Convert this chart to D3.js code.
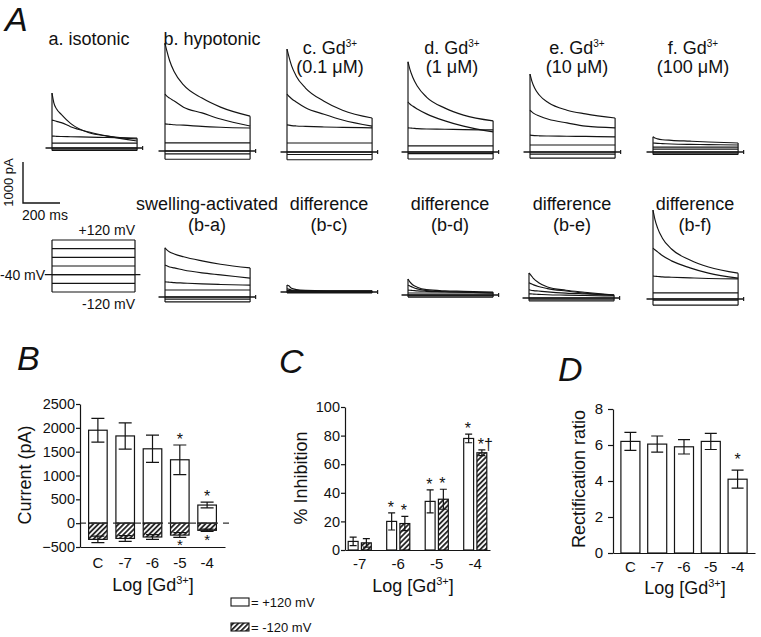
<!DOCTYPE html>
<html>
<head>
<meta charset="utf-8">
<script src="https://cdn.jsdelivr.net/npm/d3@7"></script>
<style>
  body { margin: 0; background: #fff; }
  svg text { font-family: "Liberation Sans", Arial, Helvetica, sans-serif; fill: #111; }
</style>
</head>
<body>
<svg id="fig" width="761" height="637"></svg>
<script>
// ---- data: current traces (pA) sampled at traceTimes, one row per voltage step ----
const traceTimes = [0, 10, 25, 50, 100, 200, 300, 460];      // ms
const stepVoltages = [120, 80, 40, 0, -40, -80, -120];        // mV
const holdingVoltage = -40;

const isotonic = [
  [1340, 1100, 950, 820, 600, 370, 290, 220],
  [680, 670, 650, 620, 520, 390, 290, 170],
  [290, 290, 285, 280, 275, 265, 255, 240],
  [120, 120, 120, 120, 120, 120, 120, 120],
  [0, 0, 0, 0, 0, 0, 0, 0],
  [-30, -30, -30, -30, -30, -30, -30, -30],
  [-60, -60, -60, -60, -60, -60, -60, -60]
];
const hypotonic = [
  [2630, 2440, 2200, 1930, 1610, 1290, 1070, 850],
  [1390, 1340, 1290, 1220, 1070, 930, 780, 610],
  [660, 655, 650, 640, 630, 600, 580, 560],
  [200, 200, 200, 200, 200, 200, 200, 200],
  [0, 0, 0, 0, 0, 0, 0, 0],
  [-70, -70, -70, -70, -70, -70, -70, -70],
  [-200, -200, -200, -200, -200, -200, -200, -200]
];
const gd01 = [
  [2510, 2330, 2100, 1850, 1560, 1240, 1020, 830],
  [1410, 1360, 1300, 1220, 1080, 920, 780, 630],
  [660, 655, 645, 635, 625, 610, 600, 590],
  [220, 220, 220, 220, 220, 220, 220, 220],
  [0, 0, 0, 0, 0, 0, 0, 0],
  [-60, -60, -60, -60, -60, -60, -60, -60],
  [-190, -190, -190, -190, -190, -190, -190, -190]
];
const gd1 = [
  [2200, 2020, 1830, 1610, 1340, 1070, 900, 760],
  [1220, 1170, 1120, 1050, 930, 760, 630, 490],
  [590, 585, 580, 570, 560, 555, 545, 540],
  [150, 150, 150, 150, 150, 150, 150, 150],
  [0, 0, 0, 0, 0, 0, 0, 0],
  [-40, -40, -40, -40, -40, -40, -40, -40],
  [-170, -170, -170, -170, -170, -170, -170, -170]
];
const gd10 = [
  [1900, 1730, 1560, 1390, 1200, 1020, 930, 830],
  [1020, 980, 930, 880, 800, 710, 630, 590],
  [410, 405, 400, 395, 390, 385, 380, 370],
  [170, 170, 170, 170, 170, 170, 170, 170],
  [0, 0, 0, 0, 0, 0, 0, 0],
  [-50, -50, -50, -50, -50, -50, -50, -50],
  [-150, -150, -150, -150, -150, -150, -150, -150]
];
const gd100 = [
  [370, 340, 320, 300, 285, 265, 245, 220],
  [220, 215, 210, 205, 195, 185, 180, 170],
  [120, 120, 120, 120, 120, 120, 120, 120],
  [70, 70, 70, 70, 70, 70, 70, 70],
  [0, 0, 0, 0, 0, 0, 0, 0],
  [-30, -30, -30, -30, -30, -30, -30, -30],
  [-60, -60, -60, -60, -60, -60, -60, -60]
];
const diffBA = [
  [1200, 1150, 1100, 1050, 980, 880, 800, 710],
  [780, 760, 730, 710, 660, 590, 540, 460],
  [370, 365, 360, 350, 340, 320, 305, 290],
  [170, 170, 170, 170, 170, 170, 170, 170],
  [0, 0, 0, 0, 0, 0, 0, 0],
  [-50, -50, -50, -50, -50, -50, -50, -50],
  [-120, -120, -120, -120, -120, -120, -120, -120]
];
const diffBC = [
  [170, 150, 90, 60, 40, 30, 30, 30],
  [80, 70, 50, 40, 30, 20, 20, 20],
  [40, 40, 35, 30, 20, 15, 10, 10],
  [20, 20, 20, 20, 20, 20, 20, 20],
  [0, 0, 0, 0, 0, 0, 0, 0],
  [-10, -10, -10, -10, -10, -10, -10, -10],
  [-20, -20, -20, -20, -20, -20, -20, -20]
];
const diffBD = [
  [390, 320, 250, 190, 130, 100, 90, 70],
  [240, 220, 190, 150, 110, 80, 70, 50],
  [120, 115, 110, 100, 90, 80, 70, 50],
  [50, 50, 50, 50, 50, 50, 50, 50],
  [0, 0, 0, 0, 0, 0, 0, 0],
  [-20, -20, -20, -20, -20, -20, -20, -20],
  [-50, -50, -50, -50, -50, -50, -50, -50]
];
const diffBE = [
  [610, 560, 470, 380, 270, 190, 140, 70],
  [370, 350, 320, 280, 230, 170, 120, 70],
  [200, 190, 180, 170, 150, 120, 100, 70],
  [100, 100, 95, 90, 80, 70, 60, 50],
  [0, 0, 0, 0, 0, 0, 0, 0],
  [-30, -30, -30, -30, -30, -30, -30, -30],
  [-70, -70, -70, -70, -70, -70, -70, -70]
];
const diffBF = [
  [2170, 1950, 1730, 1490, 1220, 950, 780, 630],
  [1240, 1200, 1150, 1060, 930, 760, 630, 510],
  [560, 555, 550, 540, 530, 515, 500, 490],
  [150, 150, 150, 150, 150, 150, 150, 150],
  [0, 0, 0, 0, 0, 0, 0, 0],
  [-30, -30, -30, -30, -30, -30, -30, -30],
  [-150, -150, -150, -150, -150, -150, -150, -150]
];

const topTitles = [["a. isotonic"], ["b. hypotonic"], ["c. Gd", "(0.1 μM)"],
                   ["d. Gd", "(1 μM)"], ["e. Gd", "(10 μM)"], ["f. Gd", "(100 μM)"]];
const bottomTitles = [["swelling-activated", "(b-a)"], ["difference", "(b-c)"], ["difference", "(b-d)"],
                      ["difference", "(b-e)"], ["difference", "(b-f)"]];

// ---- data: panel B (current, pA) ----
const bCategories = ["C", "-7", "-6", "-5", "-4"];
const bTicks = [-500, 0, 500, 1000, 1500, 2000, 2500];
const bPos = [1950, 1830, 1560, 1330, 380];
const bPosErr = [250, 275, 285, 310, 60];
const bNeg = [-340, -320, -290, -250, -150];
const bNegErr = [70, 60, 50, 50, 25];
const bStarPos = [false, false, false, true, true];
const bStarNeg = [false, false, false, true, true];

// ---- data: panel C (% inhibition) ----
const cCategories = ["-7", "-6", "-5", "-4"];
const cTicks = [0, 20, 40, 60, 80, 100];
const cPos = [6, 20, 34, 78];
const cPosErr = [3, 6, 8, 3];
const cNeg = [5, 18.5, 35.5, 68];
const cNegErr = [3, 5, 7, 2];
const cStarPos = ["", "*", "*", "*"];
const cStarNeg = ["", "*", "*", "*†"];

// ---- data: panel D (rectification ratio) ----
const dCategories = ["C", "-7", "-6", "-5", "-4"];
const dTicks = [0, 2, 4, 6, 8];
const dRatio = [6.2, 6.05, 5.9, 6.2, 4.1];
const dErr = [0.5, 0.45, 0.4, 0.45, 0.5];
const dStar = [false, false, false, false, true];

// ---------------------------------------------------------------
const svg = d3.select("#fig");
const ink = "#141414";
const FONT = '"Liberation Sans", Arial, Helvetica, sans-serif';

const defs = svg.append("defs");
const hatch = defs.append("pattern")
  .attr("id", "hatch").attr("patternUnits", "userSpaceOnUse")
  .attr("width", 3.6).attr("height", 3.6).attr("patternTransform", "rotate(45)");
hatch.append("rect").attr("width", 3.6).attr("height", 3.6).attr("fill", "#fff");
hatch.append("line").attr("x1", 0.9).attr("x2", 0.9).attr("y1", 0).attr("y2", 3.6)
  .attr("stroke", "#2a2a2a").attr("stroke-width", 1.9);

// shared trace scales: 200 ms = 37 px, 1000 pA = 41 px
const msSpan = 460;
const pxPerMs = 37 / 200;
const pxPer1000pA = 41;

function drawTraces(x0, y0, rows) {
  const x = d3.scaleLinear().domain([0, msSpan]).range([x0, x0 + msSpan * pxPerMs]);
  const y = d3.scaleLinear().domain([0, 1000]).range([y0, y0 - pxPer1000pA]);
  const g = svg.append("g").attr("fill", "none").attr("stroke", ink).attr("stroke-width", 1.15);

  // zero current line
  g.append("line").attr("x1", x(-35)).attr("x2", x(msSpan + 30))
    .attr("y1", y(0)).attr("y2", y(0)).attr("stroke-width", 1.4);
  g.append("line").attr("x1", x(msSpan + 30)).attr("x2", x(msSpan + 30))
    .attr("y1", y(0) - 2).attr("y2", y(0) + 2);

  const line = d3.line()
    .x((d, i) => x(traceTimes[i]))
    .y(d => y(d))
    .curve(d3.curveMonotoneX);

  g.selectAll("path.tr").data(rows).join("path")
    .attr("class", "tr")
    .attr("d", d => line(d));

  // step onset / offset edges
  const first = rows.map(r => r[0]);
  const last = rows.map(r => r[r.length - 1]);
  g.append("line").attr("x1", x(0)).attr("x2", x(0))
    .attr("y1", y(d3.min(first))).attr("y2", y(d3.max(first)));
  g.append("line").attr("x1", x(msSpan)).attr("x2", x(msSpan))
    .attr("y1", y(d3.min(last))).attr("y2", y(d3.max(last)));
}

function addTitle(cx, lines, baselines) {
  lines.forEach((t, i) => {
    const txt = svg.append("text").attr("x", cx).attr("y", baselines[i])
      .attr("text-anchor", "middle").attr("font-size", 18);
    if (t.endsWith("Gd")) {
      txt.append("tspan").text(t);
      txt.append("tspan").attr("font-size", 10).attr("dy", -7).text("3+");
    } else {
      txt.text(t);
    }
  });
}

function logLabel(cx, baseline) {
  const t = svg.append("text").attr("x", cx).attr("y", baseline)
    .attr("text-anchor", "middle").attr("font-size", 18);
  t.append("tspan").text("Log [Gd");
  t.append("tspan").attr("font-size", 11).attr("dy", -7).text("3+");
  t.append("tspan").attr("dy", 7).text("]");
}

function panelLetter(letter, x, y) {
  svg.append("text").attr("x", x).attr("y", y)
    .attr("font-size", 34).attr("font-style", "italic").text(letter);
}

function styleAxis(g, size) {
  g.attr("font-family", FONT).attr("font-size", size);
  g.selectAll("path, line").attr("stroke", ink).attr("stroke-width", 1.2);
  g.selectAll("text").attr("fill", ink);
}

// ================= Panel A =================
panelLetter("A", 5, 31);

const topPanels = [isotonic, hypotonic, gd01, gd1, gd10, gd100];
const topPos = [[52, 148, 89], [165, 151, 212], [287, 152, 330], [408, 152, 452], [530, 152, 577], [653, 152, 693]];
topPanels.forEach((rows, i) => {
  const [x0, y0, cx] = topPos[i];
  drawTraces(x0, y0, rows);
  addTitle(cx, topTitles[i], topTitles[i].length === 1 ? [45] : [54, 73]);
});

const bottomPanels = [diffBA, diffBC, diffBD, diffBE, diffBF];
const bottomPos = [[165, 297, 207], [287, 292, 329], [408, 295, 450], [529, 298, 572], [653, 299, 695]];
bottomPanels.forEach((rows, i) => {
  const [x0, y0, cx] = bottomPos[i];
  drawTraces(x0, y0, rows);
  addTitle(cx, bottomTitles[i], [210, 231]);
});

// scale bar
{
  const sx = d3.scaleLinear().domain([0, 200]).range([23, 23 + 37]);
  const sy = d3.scaleLinear().domain([0, 1000]).range([203, 203 - pxPer1000pA]);
  svg.append("path")
    .attr("d", `M${sx(0)},${sy(1000)}V${sy(0)}H${sx(200)}`)
    .attr("fill", "none").attr("stroke", ink).attr("stroke-width", 1.4);
  svg.append("text").attr("transform", `translate(13,${sy(500)}) rotate(-90)`)
    .attr("text-anchor", "middle").attr("font-size", 13).text("1000 pA");
  svg.append("text").attr("x", sx(0) - 1).attr("y", 220).attr("font-size", 14).text("200 ms");
}

// voltage protocol
{
  const vx = d3.scaleLinear().domain([0, msSpan]).range([52, 135]);
  const vy = d3.scaleLinear().domain([-120, 120]).range([292, 240]);
  const g = svg.append("g").attr("stroke", ink).attr("stroke-width", 1.2);
  g.selectAll("line.step").data(stepVoltages).join("line")
    .attr("class", "step")
    .attr("x1", vx(0)).attr("x2", vx(msSpan))
    .attr("y1", d => vy(d)).attr("y2", d => vy(d));
  g.append("line").attr("x1", vx(0)).attr("x2", vx(0))
    .attr("y1", vy(d3.min(stepVoltages))).attr("y2", vy(d3.max(stepVoltages)));
  g.append("line").attr("x1", vx(msSpan)).attr("x2", vx(msSpan))
    .attr("y1", vy(d3.min(stepVoltages))).attr("y2", vy(d3.max(stepVoltages)));
  g.append("line").attr("x1", vx(-40)).attr("x2", vx(msSpan + 30))
    .attr("y1", vy(holdingVoltage)).attr("y2", vy(holdingVoltage)).attr("stroke-width", 1.4);

  svg.append("text").attr("x", 135).attr("y", vy(120) - 5).attr("text-anchor", "end")
    .attr("font-size", 14).text("+120 mV");
  svg.append("text").attr("x", 0).attr("y", vy(holdingVoltage) + 5)
    .attr("font-size", 14).text("-40 mV");
  svg.append("text").attr("x", 135).attr("y", vy(-120) + 17).attr("text-anchor", "end")
    .attr("font-size", 14).text("-120 mV");
}

// ================= Panel B =================
panelLetter("B", 17, 370);
{
  const y = d3.scaleLinear().domain([-500, 2500]).range([547, 404]);
  const x = d3.scaleBand().domain(bCategories).range([80, 225])
    .paddingInner(0.32).paddingOuter(0.315);

  // bars
  const bars = bCategories.map((c, i) => ({ c, pos: bPos[i], pe: bPosErr[i], neg: bNeg[i], ne: bNegErr[i],
    sp: bStarPos[i], sn: bStarNeg[i] }));
  const g = svg.append("g");
  g.selectAll("rect.pos").data(bars).join("rect").attr("class", "pos")
    .attr("x", d => x(d.c)).attr("width", x.bandwidth())
    .attr("y", d => y(d.pos)).attr("height", d => y(0) - y(d.pos))
    .attr("fill", "#fff").attr("stroke", ink).attr("stroke-width", 1.2);
  g.selectAll("rect.neg").data(bars).join("rect").attr("class", "neg")
    .attr("x", d => x(d.c)).attr("width", x.bandwidth())
    .attr("y", y(0)).attr("height", d => y(d.neg) - y(0))
    .attr("fill", "url(#hatch)").attr("stroke", ink).attr("stroke-width", 1.2);

  // error bars
  const cap = 6.5;
  const eb = (v, e) => `M${0},${y(v - e)}V${y(v + e)}M${-cap},${y(v + e)}h${2 * cap}M${-cap},${y(v - e)}h${2 * cap}`;
  g.selectAll("path.ep").data(bars).join("path").attr("class", "ep")
    .attr("transform", d => `translate(${x(d.c) + x.bandwidth() / 2},0)`)
    .attr("d", d => eb(d.pos, d.pe)).attr("fill", "none").attr("stroke", ink).attr("stroke-width", 1.2);
  g.selectAll("path.en").data(bars).join("path").attr("class", "en")
    .attr("transform", d => `translate(${x(d.c) + x.bandwidth() / 2},0)`)
    .attr("d", d => eb(d.neg, d.ne)).attr("fill", "none").attr("stroke", ink).attr("stroke-width", 1.2);

  // dashed zero line
  g.append("line").attr("x1", 80).attr("x2", 232).attr("y1", y(0)).attr("y2", y(0))
    .attr("stroke", "#333").attr("stroke-width", 1.1).attr("stroke-dasharray", "6,5");

  // stars
  g.selectAll("text.sp").data(bars.filter(d => d.sp)).join("text").attr("class", "sp")
    .attr("x", d => x(d.c) + x.bandwidth() / 2).attr("y", d => y(d.pos + d.pe))
    .attr("text-anchor", "middle").attr("font-size", 16).text("*");
  g.selectAll("text.sn").data(bars.filter(d => d.sn)).join("text").attr("class", "sn")
    .attr("x", d => x(d.c) + x.bandwidth() / 2).attr("y", d => y(d.neg - d.ne) + 13)
    .attr("text-anchor", "middle").attr("font-size", 15).text("*");

  const ya = svg.append("g").attr("transform", "translate(80,0)")
    .call(d3.axisLeft(y).tickValues(bTicks).tickSize(4).tickSizeOuter(0).tickPadding(1).tickFormat(d3.format("d")));
  styleAxis(ya, 14.5);
  const xa = svg.append("g").attr("transform", `translate(0,${y(-500)})`)
    .call(d3.axisBottom(x).tickSize(0).tickPadding(10));
  styleAxis(xa, 15);

  svg.append("text").attr("transform", "translate(31,475) rotate(-90)")
    .attr("text-anchor", "middle").attr("font-size", 18).text("Current (pA)");
  logLabel(153, 591);

  // legend
  svg.append("rect").attr("x", 231).attr("y", 598).attr("width", 18).attr("height", 8)
    .attr("fill", "#fff").attr("stroke", ink).attr("stroke-width", 1.1);
  svg.append("text").attr("x", 251).attr("y", 607).attr("font-size", 13).text("= +120 mV");
  svg.append("rect").attr("x", 231).attr("y", 623).attr("width", 18).attr("height", 8)
    .attr("fill", "url(#hatch)").attr("stroke", ink).attr("stroke-width", 1.1);
  svg.append("text").attr("x", 251).attr("y", 632).attr("font-size", 13).text("= -120 mV");
}

// ================= Panel C =================
panelLetter("C", 279, 373);
{
  const y = d3.scaleLinear().domain([0, 100]).range([550, 407]);
  const x0 = d3.scaleBand().domain(cCategories).range([345, 490]).paddingInner(0.4).paddingOuter(0.083);
  const x1 = d3.scaleBand().domain(["pos", "neg"]).range([0, x0.bandwidth()]).paddingInner(0.25);
  const series = [];
  cCategories.forEach((c, i) => {
    series.push({ c, k: "pos", v: cPos[i], e: cPosErr[i], s: cStarPos[i] });
    series.push({ c, k: "neg", v: cNeg[i], e: cNegErr[i], s: cStarNeg[i] });
  });
  const cx = d => x0(d.c) + x1(d.k) + x1.bandwidth() / 2;
  const g = svg.append("g");
  g.selectAll("rect").data(series).join("rect")
    .attr("x", d => x0(d.c) + x1(d.k)).attr("width", x1.bandwidth())
    .attr("y", d => y(d.v)).attr("height", d => y(0) - y(d.v))
    .attr("fill", d => d.k === "pos" ? "#fff" : "url(#hatch)")
    .attr("stroke", ink).attr("stroke-width", 1.2);
  const cap = 3.5;
  g.selectAll("path.e").data(series).join("path").attr("class", "e")
    .attr("d", d => `M${cx(d)},${y(d.v - d.e)}V${y(d.v + d.e)}M${cx(d) - cap},${y(d.v + d.e)}h${2 * cap}M${cx(d) - cap},${y(d.v - d.e)}h${2 * cap}`)
    .attr("fill", "none").attr("stroke", ink).attr("stroke-width", 1.2);
  g.selectAll("text.s").data(series.filter(d => d.s)).join("text").attr("class", "s")
    .attr("x", d => cx(d) - 4).attr("y", d => y(d.v + d.e))
    .attr("font-size", 16).text(d => d.s);

  const ya = svg.append("g").attr("transform", "translate(345,0)")
    .call(d3.axisLeft(y).tickValues(cTicks).tickSize(4).tickSizeOuter(0).tickPadding(1));
  styleAxis(ya, 14.5);
  const xa = svg.append("g").attr("transform", `translate(0,${y(0)})`)
    .call(d3.axisBottom(x0).tickSize(0).tickPadding(8));
  styleAxis(xa, 15);

  svg.append("text").attr("transform", "translate(307,478) rotate(-90)")
    .attr("text-anchor", "middle").attr("font-size", 18).text("% Inhibition");
  logLabel(413, 592);
}

// ================= Panel D =================
panelLetter("D", 558, 381);
{
  const y = d3.scaleLinear().domain([0, 8]).range([553, 409]);
  const x = d3.scaleBand().domain(dCategories).range([613, 755]).paddingInner(0.29).paddingOuter(0.295);
  const bars = dCategories.map((c, i) => ({ c, v: dRatio[i], e: dErr[i], s: dStar[i] }));
  const cx = d => x(d.c) + x.bandwidth() / 2;
  const g = svg.append("g");
  g.selectAll("rect").data(bars).join("rect")
    .attr("x", d => x(d.c)).attr("width", x.bandwidth())
    .attr("y", d => y(d.v)).attr("height", d => y(0) - y(d.v))
    .attr("fill", "#fff").attr("stroke", ink).attr("stroke-width", 1.2);
  const cap = 6;
  g.selectAll("path.e").data(bars).join("path").attr("class", "e")
    .attr("d", d => `M${cx(d)},${y(d.v - d.e)}V${y(d.v + d.e)}M${cx(d) - cap},${y(d.v + d.e)}h${2 * cap}M${cx(d) - cap},${y(d.v - d.e)}h${2 * cap}`)
    .attr("fill", "none").attr("stroke", ink).attr("stroke-width", 1.2);
  g.selectAll("text.s").data(bars.filter(d => d.s)).join("text").attr("class", "s")
    .attr("x", cx).attr("y", d => y(d.v + d.e) - 5)
    .attr("text-anchor", "middle").attr("font-size", 16).text("*");

  const ya = svg.append("g").attr("transform", "translate(613,0)")
    .call(d3.axisLeft(y).tickValues(dTicks).tickSize(5).tickSizeOuter(0).tickPadding(5));
  styleAxis(ya, 15);
  const xa = svg.append("g").attr("transform", `translate(0,${y(0)})`)
    .call(d3.axisBottom(x).tickSize(0).tickPadding(8));
  styleAxis(xa, 15);

  svg.append("text").attr("transform", "translate(585,479) rotate(-90)")
    .attr("text-anchor", "middle").attr("font-size", 18).text("Rectification ratio");
  logLabel(685, 594);
}
</script>
</body>
</html>
